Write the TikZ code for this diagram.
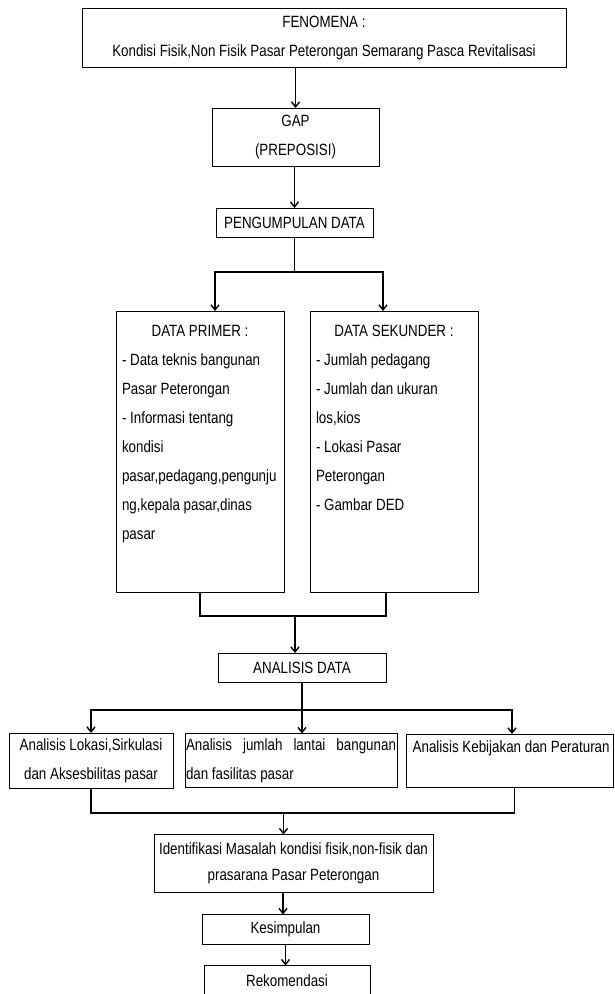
\documentclass[tikz,border=0pt]{standalone}
\usepackage{fontspec}
\setmainfont[FakeStretch=0.82]{Liberation Sans}
\usetikzlibrary{arrows.meta, positioning, calc}
\tikzset{
	every node/.style={
		align=center,
	},
}
\tikzstyle{every kotak} = [draw, line width=0.8pt, outer sep=0pt, inner xsep=4pt, inner ysep=0pt]
\tikzstyle{every isian} = [every kotak, align=flush left, inner xsep=6pt, text height=25pt]
\tikzstyle{every garis} = [line width=1.4pt]
\tikzstyle{every panah} = [line width=1.4pt, -{Straight Barb[length=5pt,width=8pt]}]

\begin{document}
\begin{tikzpicture}[font=\fontsize{16.3pt}{29pt}\selectfont]
        \useasboundingbox (0,0) rectangle (614pt,-994pt);
        \clip (0,0) rectangle (614pt,-994pt);
        \node[every kotak, minimum width=484pt, minimum height=59pt] at (324pt,-37.5pt) (fen) {FENOMENA :\\Kondisi Fisik,Non Fisik Pasar Peterongan Semarang Pasca Revitalisasi};
        \node[every kotak, minimum width=167pt, minimum height=58pt, below=41pt of fen, xshift=-28.5pt] (gap) {GAP\\(PREPOSISI)};
        \node[every kotak, minimum width=157pt, minimum height=29pt, below=42pt of gap, xshift=-1pt] (kumpul) {PENGUMPULAN DATA};
        \node[every isian, text width=156pt, text depth=256pt, below=74pt of kumpul, xshift=-94.5pt] (primer) {\makebox[\linewidth]{DATA PRIMER :}\\- Data teknis bangunan\\Pasar Peterongan\\- Informasi tentang\\kondisi\\pasar,pedagang,pengunju\\ng,kepala pasar,dinas\\pasar};
        \node[every isian, text width=156pt, text depth=256pt, right=26pt of primer] (sekunder) {\makebox[\linewidth]{DATA SEKUNDER :}\\- Jumlah pedagang\\- Jumlah dan ukuran\\los,kios\\- Lokasi Pasar\\Peterongan\\- Gambar DED};
        \node[every kotak, minimum width=168pt, minimum height=29pt, below=61pt of primer, xshift=102pt] (analisis) {ANALISIS DATA};
        \node[every kotak, minimum width=164pt, minimum height=55pt, below=51pt of analisis, xshift=-211pt] (lokasi) {Analisis Lokasi,Sirkulasi\\dan Aksesbilitas pasar};
        \node[every kotak, align=flush left, text width=210pt, inner xsep=1pt, minimum height=54pt, right=12pt of lokasi] (lantai) {Analisis\hfill jumlah\hfill lantai\hfill bangunan\\dan fasilitas pasar};
        \node[every isian, text width=201pt, inner xsep=3pt, text height=18pt, text depth=35pt, right=9pt of lantai] (kebijakan) {\mbox{ Analisis Kebijakan dan Peraturan}};
        \node[every kotak, inner xsep=0pt, minimum width=279pt, minimum height=58pt, font=\fontsize{16.3pt}{26pt}\selectfont, below=47pt of lantai, xshift=2.5pt] (identifikasi) {Identifikasi Masalah kondisi fisik,non-fisik dan\\prasarana Pasar Peterongan};
        \node[every kotak, minimum width=167pt, minimum height=30pt, below=22pt of identifikasi, xshift=-8pt] (kesimpulan) {Kesimpulan};
        \node[every kotak, minimum width=166pt, minimum height=30pt, below=21pt of kesimpulan, xshift=1.5pt] (rekomendasi) {Rekomendasi};
        % alur atas
        \draw[every panah] (gap.north |- fen.south) -- (gap.north);
        \draw[every panah] (kumpul.north |- gap.south) -- (kumpul.north);
        \draw[every garis] (kumpul.south) -- ++(0,-35pt) coordinate (cabang1);
        \draw[every panah] (cabang1) -| ([xshift=15pt]primer.north);
        \draw[every panah] (cabang1) -| ([xshift=-11pt]sekunder.north);
        \draw[every garis] (primer.south) -- ++(0,-24pt) -| ([xshift=-8pt]sekunder.south);
        \draw[every panah] ([xshift=-7pt]analisis.north) ++(0,37pt) -- ([xshift=-7pt]analisis.north);
        % alur analisis
        \draw[every garis] (analisis.south) -- ++(0,-28pt) coordinate (cabang2);
        \draw[every panah] (cabang2) -| (lokasi.north);
        \draw[every panah] (cabang2) -| ([xshift=2.5pt]kebijakan.north);
        \draw[every panah] (cabang2) -- (cabang2 |- lantai.north);
        \draw[every garis] (lokasi.south) -- ++(0,-25pt) -| ([xshift=5pt]kebijakan.south);
        \draw[every panah] ([xshift=-10pt]identifikasi.north) ++(0,21pt) -- ([xshift=-10pt]identifikasi.north);
        \draw[every panah] ([xshift=-2.5pt]kesimpulan.north |- identifikasi.south) -- ([xshift=-2.5pt]kesimpulan.north);
        \draw[every panah] (kesimpulan.south) -- (kesimpulan.south |- rekomendasi.north);
\end{tikzpicture}
\end{document}
